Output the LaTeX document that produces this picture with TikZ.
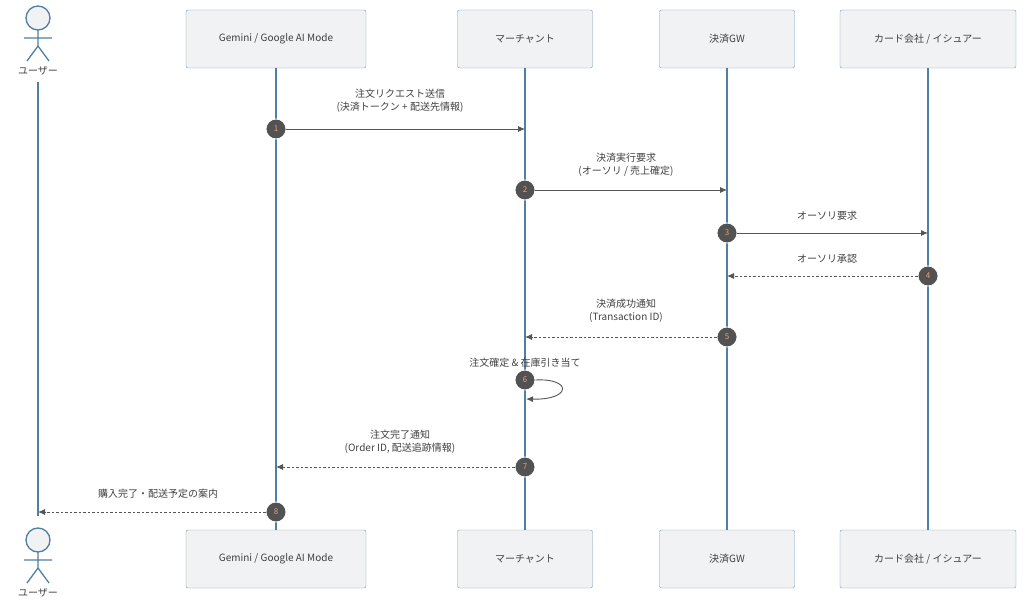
\documentclass[tikz,border=0pt]{standalone}
\usepackage{fontspec}
\setmainfont{Noto Sans CJK JP}
\usetikzlibrary{arrows.meta}
\definecolor{lifeblue}{HTML}{4F7FA3}
\definecolor{boxfill}{HTML}{F1F2F4}
\definecolor{msggray}{HTML}{555555}
\definecolor{numorange}{HTML}{E8A070}
\tikzset{
  party/.style={draw=lifeblue!80, fill=boxfill, rounded corners=2pt, minimum width=#1, minimum height=58pt, font=\fontsize{10}{12}\selectfont, text=black!75},
  life/.style={draw=lifeblue, line width=1.6pt},
  msg/.style={draw=msggray, line width=0.9pt, -{Latex[length=7pt,width=6pt]}},
  reply/.style={msg, dash pattern=on 2.5pt off 2pt},
  stepnum/.style={circle, fill=black!68, draw=white, line width=0.8pt, minimum size=20pt, inner sep=0pt, text=numorange, font=\fontsize{8}{9}\selectfont},
  lbl/.style={font=\fontsize{10}{12.5}\selectfont, text=black!75, align=center}
}
\begin{document}
\begin{tikzpicture}[x=1pt,y=-1pt]
  \useasboundingbox (0,0) rectangle (1024,604);

  % participants
  \foreach \nm/\x/\w/\t in {gem/276/180/{Gemini / Google AI Mode}, mer/525/135/{マーチャント}, gw/727/135/{決済GW}, card/928/176/{カード会社 / イシュアー}} {
    \node[party=\w pt] (\nm top) at (\x,39) {\t};
    \node[party=\w pt] (\nm bot) at (\x,559) {\t};
    \draw[life] (\nm top.south) -- (\nm bot.north);
  }

  % actor
  \foreach \nm/\y in {top/0, bot/522} {
    \begin{scope}[yshift=-\y pt, draw=lifeblue, line width=1.3pt]
      \draw[fill=boxfill] (38,18) circle (12);
      \draw (38,30) -- (38,46) (24,38) -- (52,38) (38,46) -- (27,61) (38,46) -- (49,61);
      \node[lbl] (user \nm) at (38,71) {ユーザー};
    \end{scope}
  }
  \coordinate (user a) at (38,82);
  \coordinate (user b) at (38,516);
  \draw[life] (user a) -- (user b);

  % steps
  \node[stepnum] (n1) at (276,129) {1};
  \node[stepnum] (n2) at (525,190) {2};
  \node[stepnum] (n3) at (727,233) {3};
  \node[stepnum] (n4) at (928,276) {4};
  \node[stepnum] (n5) at (727,337) {5};
  \node[stepnum] (n6) at (525,380) {6};
  \node[stepnum] (n7) at (525,467) {7};
  \node[stepnum] (n8) at (276,512) {8};
  \coordinate (t1) at (525,129);
  \coordinate (t2) at (727,190);
  \coordinate (t3) at (928,233);
  \coordinate (t4) at (727,276);
  \coordinate (t5) at (525,337);
  \coordinate (t6) at (526,399);
  \coordinate (t7) at (276,467);
  \coordinate (t8) at (38,512);

  % messages
  \draw[msg] (n1) -- (t1);
  \draw[msg] (n2) -- (t2);
  \draw[msg] (n3) -- (t3);
  \draw[reply] (n4) -- (t4);
  \draw[reply] (n5) -- (t5);
  \draw[msg] (n6.east) .. controls (572,378) and (572,400) .. (t6);
  \draw[reply] (n7) -- (t7);
  \draw[reply] (n8) -- (t8);

  % labels
  \node[lbl] (l1) at (400,101) {注文リクエスト送信\\(決済トークン + 配送先情報)};
  \node[lbl] (l2) at (626,165) {決済実行要求\\(オーソリ / 売上確定)};
  \node[lbl] (l3) at (827,216) {オーソリ要求};
  \node[lbl] (l4) at (827,259) {オーソリ承認};
  \node[lbl] (l5) at (626,311) {決済成功通知\\(Transaction ID)};
  \node[lbl] (l6) at (525,363) {注文確定 \& 在庫引き当て};
  \node[lbl] (l7) at (400,442) {注文完了通知\\(Order ID, 配送追跡情報)};
  \node[lbl] (l8) at (158,494) {購入完了・配送予定の案内};
\end{tikzpicture}
\end{document}
